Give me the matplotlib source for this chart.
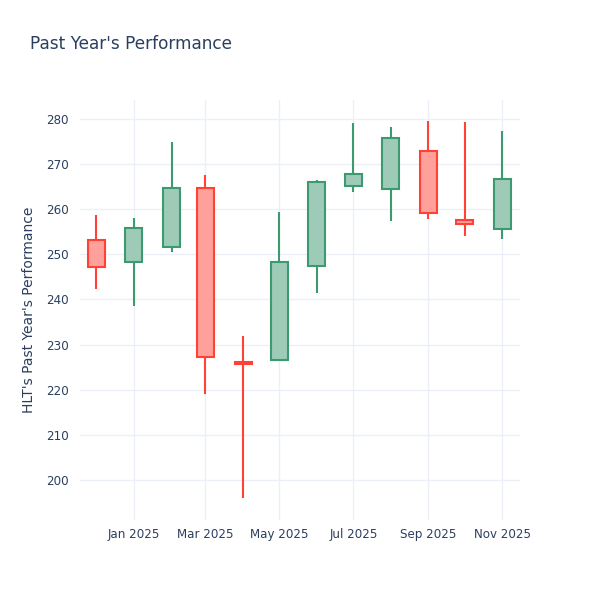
import datetime as dt
import matplotlib
matplotlib.use("Agg")
import matplotlib.pyplot as plt
import matplotlib.dates as mdates

# monthly candles, Dec 2024 .. Nov 2025
months = ["2024-12-01", "2025-01-01", "2025-02-01", "2025-03-01", "2025-04-01", "2025-05-01",
          "2025-06-01", "2025-07-01", "2025-08-01", "2025-09-01", "2025-10-01", "2025-11-01"]
opens = [253.2, 248.2, 251.7, 264.7, 226.2, 226.6, 247.4, 265.2, 264.4, 272.9, 257.5, 255.5]
highs = [258.7, 258.0, 274.9, 267.5, 231.8, 259.3, 266.4, 279.2, 278.3, 279.6, 279.3, 277.4]
lows = [242.3, 238.6, 250.5, 219.1, 195.9, 226.6, 241.4, 263.9, 257.3, 257.8, 254.1, 253.3]
closes = [247.1, 255.8, 264.7, 227.3, 225.6, 248.2, 266.1, 267.8, 275.8, 259.2, 256.8, 266.6]

ticker = "HLT"
title = "Past Year's Performance"

inc_line, inc_fill = "#3D9970", "#9ECBB7"
dec_line, dec_fill = "#FF4136", "#FFA09A"
text_col = "#2a3f5f"
grid_col = "#EBF0F8"

dates = [dt.datetime.strptime(m, "%Y-%m-%d") for m in months]

fig = plt.figure(figsize=(6, 6), dpi=100)
ax = fig.add_axes([80 / 600, 80 / 600, 440 / 600, 420 / 600])

for d, o, h, l, c in zip(dates, opens, highs, lows, closes):
    up = c >= o
    lc = inc_line if up else dec_line
    fc = inc_fill if up else dec_fill
    ax.vlines(d, l, h, color=lc, linewidth=1.5, zorder=2)
    ax.bar(d, abs(c - o), bottom=min(o, c), width=14, color=fc, edgecolor=lc,
           linewidth=1.5, zorder=3)

ax.set_xlim(dt.datetime(2024, 11, 17, 12), dt.datetime(2025, 11, 15, 12))
ax.set_ylim(191.1, 284.2)
ax.set_yticks(range(200, 281, 10))
ax.xaxis.set_major_locator(mdates.MonthLocator(bymonth=[1, 3, 5, 7, 9, 11]))
ax.xaxis.set_major_formatter(mdates.DateFormatter("%b %Y"))

ax.grid(True, color=grid_col, linewidth=1, zorder=0)
ax.set_axisbelow(True)
for s in ax.spines.values():
    s.set_visible(False)
ax.tick_params(length=0, labelsize=8.6, labelcolor=text_col, pad=6)
ax.tick_params(axis="y", pad=8)

ax.set_ylabel(f"{ticker}'s {title}", fontsize=10, color=text_col, labelpad=7)
fig.text(30 / 600, 1 - 44 / 600, title, fontsize=12.2, color=text_col, va="center", ha="left")

fig.savefig("out.png", dpi=100, facecolor="white")
